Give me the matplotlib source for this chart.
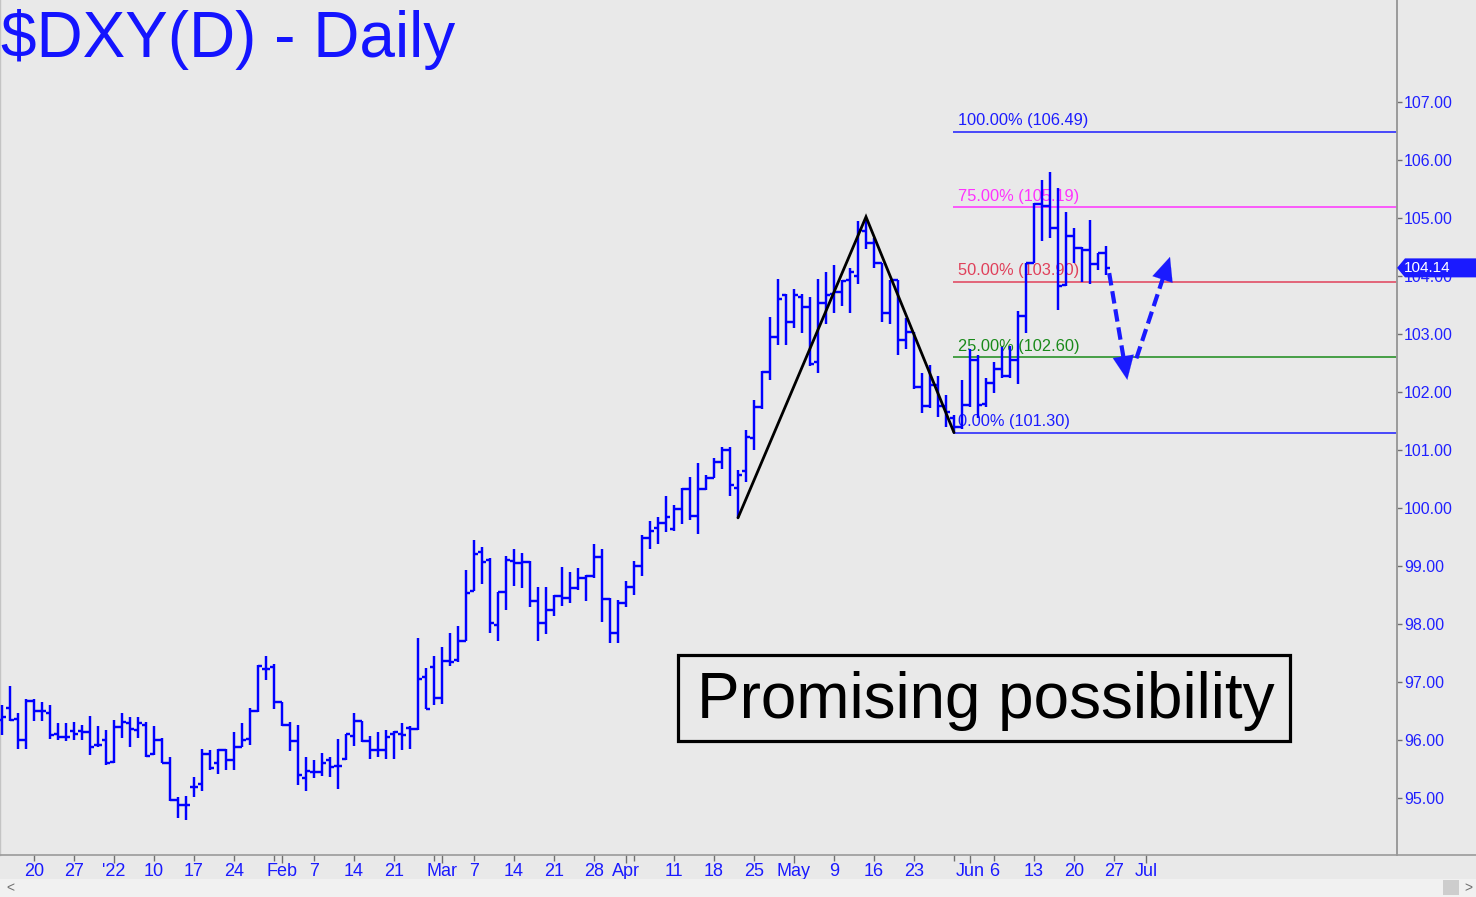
import numpy as np
import pandas as pd
import matplotlib
matplotlib.use("Agg")
import matplotlib.pyplot as plt
import matplotlib.transforms as mtransforms
from matplotlib.patches import Rectangle, Polygon
from matplotlib.lines import Line2D

plt.rcParams['font.family'] = ['Liberation Sans', 'DejaVu Sans']

# Daily OHLC for $DXY, one bar per weekday starting 2021-12-14
start_date = '2021-12-14'
origin_date = '2021-12-20'

opens = [96.35, 96.56, 96.37, 96.00, 96.68, 96.50, 96.46, 96.11, 96.06, 96.15,
         96.15, 96.14, 95.91, 96.00, 95.62, 96.23, 96.30, 96.17, 96.26, 95.76,
         96.00, 95.61, 94.96, 94.88, 95.19, 95.25, 95.76, 95.60, 95.83, 95.65,
         95.88, 96.01, 96.50, 97.23, 97.26, 96.66, 96.26, 95.99, 95.35, 95.45,
         95.44, 95.65, 95.55, 95.68, 96.07, 96.32, 95.99, 95.83, 95.82, 96.11,
         96.10, 96.20, 96.19, 97.08, 97.26, 96.72, 97.37, 97.38, 97.71, 98.57,
         99.25, 99.11, 97.98, 98.56, 99.09, 99.06, 99.07, 98.40, 98.01, 98.25,
         98.48, 98.44, 98.62, 98.80, 98.83, 99.15, 98.43, 97.84, 98.37, 98.63,
         99.00, 99.48, 99.65, 99.75, 99.63, 99.98, 100.32, 99.86, 100.32, 100.51,
         100.80, 101.00, 100.34, 100.63, 101.20, 101.75, 102.35, 102.95, 103.67, 103.21,
         103.64, 103.47, 102.51, 103.54, 103.69, 103.73, 103.93, 104.00, 104.78, 104.57,
         104.23, 103.36, 103.93, 102.90, 103.04, 102.08, 101.76, 102.12, 101.76, 101.55,
         101.40, 101.78, 102.56, 101.80, 102.16, 102.39, 102.28, 102.56, 103.31, 104.22,
         105.24, 105.21, 104.82, 103.84, 104.69, 104.48, 104.44, 104.21, 104.40]
highs = [96.60, 96.93, 96.46, 96.70, 96.70, 96.65, 96.61, 96.30, 96.30, 96.31,
         96.26, 96.42, 96.24, 96.17, 96.35, 96.47, 96.40, 96.40, 96.31, 96.24,
         96.03, 95.70, 95.02, 95.03, 95.37, 95.84, 95.83, 95.85, 95.85, 96.14,
         96.29, 96.56, 97.29, 97.45, 97.31, 96.66, 96.31, 96.26, 95.71, 95.65,
         95.77, 95.70, 96.01, 96.11, 96.46, 96.32, 96.07, 96.13, 96.18, 96.16,
         96.29, 96.25, 97.76, 97.24, 97.44, 97.60, 97.84, 97.97, 98.93, 99.45,
         99.32, 99.13, 98.56, 99.17, 99.30, 99.22, 99.09, 98.64, 98.64, 98.50,
         98.99, 98.90, 98.96, 98.85, 99.38, 99.30, 98.44, 98.41, 98.75, 99.09,
         99.53, 99.78, 99.84, 100.21, 100.05, 100.34, 100.53, 100.77, 100.57, 100.87,
         101.05, 101.06, 100.65, 101.35, 101.87, 102.37, 103.30, 103.94, 103.69, 103.77,
         103.69, 103.63, 103.94, 104.07, 104.19, 103.93, 104.13, 104.94, 104.99, 104.65,
         104.23, 103.93, 103.93, 103.27, 103.04, 102.33, 102.46, 102.28, 101.95, 101.60,
         102.20, 102.75, 102.64, 102.24, 102.51, 102.78, 102.79, 103.39, 104.23, 105.26,
         105.66, 105.80, 105.51, 105.11, 104.82, 104.50, 104.97, 104.40, 104.52]
lows = [96.09, 96.32, 95.84, 95.85, 96.33, 96.33, 96.01, 96.00, 95.98, 96.00,
        96.00, 95.74, 95.88, 95.57, 95.61, 96.03, 95.88, 96.03, 95.70, 95.74,
        95.60, 94.95, 94.65, 94.62, 95.02, 95.12, 95.49, 95.41, 95.49, 95.49,
        95.88, 95.91, 96.49, 97.04, 96.53, 96.24, 95.81, 95.22, 95.12, 95.34,
        95.38, 95.37, 95.16, 95.65, 95.90, 95.97, 95.67, 95.70, 95.67, 95.67,
        95.83, 95.84, 96.18, 96.53, 96.60, 96.62, 97.28, 97.35, 97.71, 98.57,
        98.69, 97.84, 97.70, 98.25, 98.66, 98.62, 98.29, 97.71, 97.83, 98.14,
        98.31, 98.36, 98.59, 98.39, 98.80, 98.04, 97.68, 97.68, 98.30, 98.50,
        98.83, 99.30, 99.38, 99.59, 99.61, 99.72, 99.80, 99.56, 100.31, 100.51,
        100.68, 100.21, 99.82, 100.45, 101.00, 101.70, 102.21, 102.81, 102.81, 103.10,
        103.01, 102.45, 102.33, 103.17, 103.37, 103.48, 103.36, 103.86, 104.46, 104.13,
        103.21, 103.17, 102.64, 102.75, 102.06, 101.63, 101.72, 101.57, 101.40, 101.29,
        101.37, 101.75, 101.55, 101.75, 101.98, 102.25, 102.25, 102.14, 103.02, 104.22,
        104.61, 104.65, 103.41, 103.83, 104.22, 103.90, 103.86, 104.10, 104.02]
closes = [96.40, 96.34, 96.00, 96.68, 96.50, 96.50, 96.09, 96.06, 96.06, 96.10,
          96.14, 95.88, 95.91, 95.60, 96.23, 96.31, 96.19, 96.30, 95.72, 96.00,
          95.61, 94.96, 94.88, 94.88, 95.19, 95.76, 95.51, 95.83, 95.65, 95.88,
          96.00, 96.50, 97.27, 97.22, 96.66, 96.26, 95.99, 95.39, 95.47, 95.44,
          95.60, 95.54, 95.55, 96.11, 96.32, 95.99, 95.83, 95.83, 96.05, 96.13,
          96.09, 96.19, 97.06, 96.53, 96.72, 97.37, 97.35, 97.71, 98.54, 99.21,
          99.07, 98.02, 98.56, 99.11, 99.05, 99.07, 98.39, 98.02, 98.24, 98.48,
          98.44, 98.62, 98.80, 98.83, 99.15, 98.43, 97.84, 98.37, 98.63, 99.00,
          99.48, 99.61, 99.75, 99.85, 99.98, 100.32, 99.86, 100.32, 100.51, 100.80,
          101.00, 100.40, 100.57, 101.22, 101.75, 102.35, 102.95, 103.60, 103.20, 103.67,
          103.47, 102.49, 103.54, 103.67, 103.73, 103.92, 104.07, 104.79, 104.57, 104.23,
          103.36, 103.93, 102.90, 103.04, 102.08, 101.76, 102.12, 101.76, 101.66, 101.40,
          101.78, 102.56, 101.78, 102.16, 102.39, 102.28, 102.56, 103.31, 104.22, 105.25,
          105.21, 104.82, 103.83, 104.69, 104.48, 104.44, 104.21, 104.40, 104.14]

# Retracement levels drawn from the May 30 low
fib_start = '2022-05-30'
fib_pcts = ['100.00%', '75.00%', '50.00%', '25.00%', '0.00%']
fib_levels = [106.49, 105.19, 103.90, 102.60, 101.30]
fib_colors = ['#1c1cff', '#ff33ff', '#e0405a', '#1a8a1a', '#1c1cff']

# ABC swing line
swing_dates = ['2022-04-21', '2022-05-13', '2022-05-30']
swing_values = [99.83, 105.02, 101.30]

# projected path (bar index, price)
arrow_down_x = [134.4, 136.66]
arrow_down_y = [104.05, 102.21]
arrow_up_x = [137.8, 142.0]
arrow_up_y = [102.58, 104.33]

month_ticks = ['2022-01-03', '2022-02-01', '2022-03-01', '2022-04-01',
               '2022-05-02', '2022-06-01', '2022-07-01']
month_labels = ["'22", 'Feb', 'Mar', 'Apr', 'May', 'Jun', 'Jul']
week_ticks = ['2021-12-20', '2021-12-27', '2022-01-10', '2022-01-17', '2022-01-24',
              '2022-01-31', '2022-02-07', '2022-02-14', '2022-02-21', '2022-02-28',
              '2022-03-07', '2022-03-14', '2022-03-21', '2022-03-28', '2022-04-04',
              '2022-04-11', '2022-04-18', '2022-04-25', '2022-05-09', '2022-05-16',
              '2022-05-23', '2022-05-30', '2022-06-06', '2022-06-13', '2022-06-20',
              '2022-06-27']
week_labels = ['20', '27', '10', '17', '24', '', '7', '14', '21', '', '7', '14', '21',
               '28', '', '11', '18', '25', '9', '16', '23', '', '6', '13', '20', '27']

y_ticks = list(range(95, 108))

BLUE = '#0000ff'
BG = '#e9e9e9'
GRAY = '#9a9a9a'
W, H = 1476, 897


def fx(px):
    return px / W


def fy(py):
    return 1 - py / H


def xpos(d):
    return np.busday_count(np.datetime64(origin_date),
                           np.asarray(d, dtype='datetime64[D]'))


fig = plt.figure(figsize=(W / 100, H / 100), dpi=100)
fig.patch.set_facecolor(BG)
ax = fig.add_axes([0, fy(855), fx(1397), 855 / H])
ax.set_facecolor(BG)

x_right = 170.375
ax.set_xlim(-4.25, x_right)
ax.set_ylim(107 - 753 / 58, 107 + 102 / 58)

dates = pd.bdate_range(start_date, periods=len(opens))
x = xpos(dates.values.astype('datetime64[D]'))

# fib lines and labels (under the bars)
fx0 = xpos(fib_start)
for pct, lvl, col in zip(fib_pcts, fib_levels, fib_colors):
    ax.hlines(lvl, fx0 - 0.1, x_right, color=col, lw=1.1, zorder=1)
    ax.annotate(f'{pct} ({lvl:.2f})', (fx0 + 0.5, lvl), xytext=(0, 2.5),
                textcoords='offset points', fontsize=11.8, color=col,
                va='bottom', ha='left', zorder=1)

# OHLC bars
tk = 0.45
ax.vlines(x, lows, highs, color=BLUE, lw=1.75, zorder=3)
ax.hlines(opens, x - tk, x, color=BLUE, lw=1.75, zorder=3)
ax.hlines(closes, x, x + tk, color=BLUE, lw=1.75, zorder=3)

ax.plot(xpos(swing_dates), swing_values, color='black', lw=2.0, zorder=4,
        solid_capstyle='round', solid_joinstyle='miter')

# dashed arrows
for ax_x, ax_y in [(arrow_down_x, arrow_down_y), (arrow_up_x, arrow_up_y)]:
    dx = ax_x[1] - ax_x[0]
    dy = ax_y[1] - ax_y[0]
    ax.plot([ax_x[0], ax_x[0] + 0.82 * dx], [ax_y[0], ax_y[0] + 0.82 * dy],
            color='#1a1aff', lw=3, dashes=(3, 1.4), zorder=5)
    ax.annotate('', xy=(ax_x[1], ax_y[1]),
                xytext=(ax_x[0] + 0.7 * dx, ax_y[0] + 0.7 * dy),
                arrowprops=dict(arrowstyle='-|>,head_length=0.85,head_width=0.38',
                                color='#1a1aff', lw=0.1, mutation_scale=20,
                                shrinkA=0, shrinkB=0), zorder=5)

# axes styling
ax.spines['top'].set_visible(False)
ax.spines['left'].set_color('#c4c4c4')
ax.spines['left'].set_linewidth(1)
ax.spines['right'].set_color(GRAY)
ax.spines['right'].set_linewidth(1.4)
ax.spines['bottom'].set_color(GRAY)
ax.spines['bottom'].set_linewidth(1.2)

ax.yaxis.tick_right()
ax.set_yticks(y_ticks)
ax.set_yticklabels([f'{v:.2f}' for v in y_ticks])
ax.tick_params(axis='y', direction='out', length=3.6, width=1, color='#707070',
               labelcolor='#2020ff', labelsize=11.5, pad=1.5)

xlab_font = ['Liberation Sans Narrow', 'Liberation Sans', 'DejaVu Sans']
ax.set_xticks(xpos(month_ticks))
ax.set_xticklabels(month_labels, family=xlab_font)
ax.set_xticks(xpos(week_ticks), minor=True)
ax.set_xticklabels(week_labels, minor=True, family=xlab_font)
ax.tick_params(axis='x', which='major', direction='out', length=6, width=1,
               color='#707070', labelcolor='#1a1aff', labelsize=13, pad=-0.5)
ax.tick_params(axis='x', which='minor', direction='out', length=4, width=1,
               color='#707070', labelcolor='#1a1aff', labelsize=13, pad=1.5)

# title
fig.text(fx(1), fy(57), '$DXY(D) - Daily', fontsize=46, color='#1414ff',
         va='baseline', ha='left')

# comment box
fig.add_artist(Rectangle((fx(678), fy(741)), fx(612), 86 / H, fill=False,
                         edgecolor='black', lw=2.3, transform=fig.transFigure))
fig.text(fx(986), fy(718), 'Promising possibility', fontsize=46, color='black',
         va='baseline', ha='center')

# last price tag on the price axis (drawn over the 104.00 label as in the source)
blend = mtransforms.blended_transform_factory(fig.transFigure, ax.transData)
last = closes[-1]
d = 9.5 / 58
fig.add_artist(Polygon([(fx(1397), last), (fx(1405), last + d), (1, last + d),
                        (1, last - d), (fx(1405), last - d)], closed=True,
                       facecolor='#1a1aff', edgecolor='none', transform=blend,
                       zorder=6))
fig.text(fx(1404), last, f'{last:.2f}', transform=blend, color='white',
         fontsize=11, va='center', ha='left', zorder=7)

# bottom axis line continues under the price scale
fig.add_artist(Line2D([fx(1397), 1], [fy(855), fy(855)], color=GRAY, lw=1.2,
                      transform=fig.transFigure))

# scrollbar strip
fig.add_artist(Rectangle((0, 0), 1, 18 / H, facecolor='#f1f1f1', edgecolor='none',
                         transform=fig.transFigure))
fig.add_artist(Rectangle((fx(1443), fy(895)), fx(16), 15 / H, facecolor='#cdcdcd',
                         edgecolor='none', transform=fig.transFigure))
fig.text(fx(6), fy(888), '<', fontsize=10, color='#707070', va='center')
fig.text(fx(1464), fy(888), '>', fontsize=10, color='#707070', va='center')

fig.savefig('out.png', dpi=100, facecolor=BG)
